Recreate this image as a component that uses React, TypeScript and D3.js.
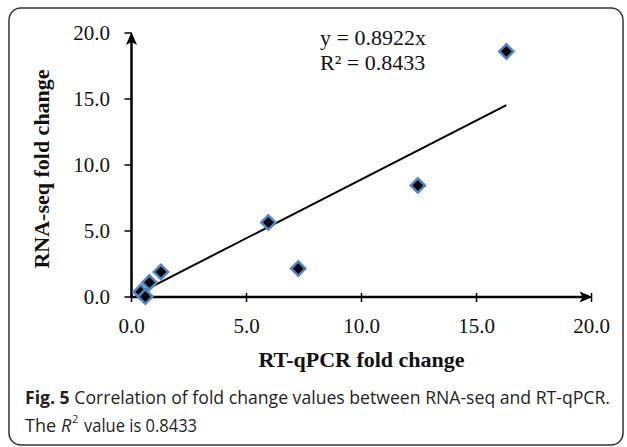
import React, { useRef, useEffect } from "react";
import * as d3 from "d3";

// RT-qPCR (x) vs RNA-seq (y) fold change
const qpcrFold = [0.4, 0.6, 0.78, 1.28, 5.95, 7.25, 12.45, 16.3];
const rnaseqFold = [0.38, 0.03, 1.1, 1.9, 5.65, 2.15, 8.45, 18.6];
const tickValues = [0, 5, 10, 15, 20];
const slope = 0.8922;
const eqLabel = "y = 0.8922x";
const r2Label = "R² = 0.8433";

const W = 627;
const H = 447;

const App = () => {
    const ref = useRef<SVGSVGElement>(null);

    useEffect(() => {
        const svg = d3.select(ref.current);
        svg.selectAll("*").remove();

        const serif = "'Liberation Serif', 'Times New Roman', serif";
        const sans = "'Open Sans', 'Noto Sans', sans-serif";

        // frame
        svg.append("rect")
            .attr("x", 9).attr("y", 8)
            .attr("width", 614).attr("height", 437)
            .attr("rx", 12)
            .attr("fill", "#fff")
            .attr("stroke", "#333")
            .attr("stroke-width", 1.5);

        const x = d3.scaleLinear().domain([0, 20]).range([131.5, 591.5]);
        const y = d3.scaleLinear().domain([0, 20]).range([297, 33]);

        const g = svg.append("g");

        // y axis
        g.append("line")
            .attr("x1", x(0)).attr("x2", x(0))
            .attr("y1", y(0) + 1).attr("y2", y(20) + 4)
            .attr("stroke", "#000").attr("stroke-width", 2.5);
        g.append("path")
            .attr("d", `M${x(0)},${y(20) - 1} L${x(0) - 5.5},${y(20) + 12} L${x(0)},${y(20) + 9} L${x(0) + 5.5},${y(20) + 12} Z`)
            .attr("fill", "#000");
        tickValues.forEach(t => {
            g.append("line")
                .attr("x1", x(0) - 7).attr("x2", x(0))
                .attr("y1", y(t)).attr("y2", y(t))
                .attr("stroke", "#000").attr("stroke-width", 1.5);
            g.append("text")
                .attr("x", 110).attr("y", y(t))
                .attr("dy", "0.35em")
                .attr("text-anchor", "end")
                .attr("font-family", serif)
                .attr("font-size", 21)
                .attr("fill", "#111")
                .text(t.toFixed(1));
        });

        // x axis
        g.append("line")
            .attr("x1", x(0) - 1).attr("x2", x(20) - 4)
            .attr("y1", y(0)).attr("y2", y(0))
            .attr("stroke", "#000").attr("stroke-width", 2.5);
        g.append("path")
            .attr("d", `M${x(20) + 1},${y(0)} L${x(20) - 12},${y(0) - 5.5} L${x(20) - 9},${y(0)} L${x(20) - 12},${y(0) + 5.5} Z`)
            .attr("fill", "#000");
        tickValues.forEach(t => {
            g.append("line")
                .attr("x1", x(t)).attr("x2", x(t))
                .attr("y1", y(0) - 4).attr("y2", y(0) + 5)
                .attr("stroke", "#000").attr("stroke-width", 1.5);
            g.append("text")
                .attr("x", x(t)).attr("y", 333)
                .attr("text-anchor", "middle")
                .attr("font-family", serif)
                .attr("font-size", 21)
                .attr("fill", "#111")
                .text(t.toFixed(1));
        });

        // axis titles
        g.append("text")
            .attr("x", (x(0) + x(20)) / 2).attr("y", 367)
            .attr("text-anchor", "middle")
            .attr("font-family", serif)
            .attr("font-weight", "bold")
            .attr("font-size", 22)
            .attr("fill", "#111")
            .text("RT-qPCR fold change");
        g.append("text")
            .attr("transform", `translate(49,169) rotate(-90)`)
            .attr("text-anchor", "middle")
            .attr("font-family", serif)
            .attr("font-weight", "bold")
            .attr("font-size", 22)
            .attr("fill", "#111")
            .text("RNA-seq fold change");

        // trend line
        const xMin = d3.min(qpcrFold)!;
        const xMax = d3.max(qpcrFold)!;
        g.append("line")
            .attr("x1", x(xMin)).attr("y1", y(slope * xMin))
            .attr("x2", x(xMax)).attr("y2", y(slope * xMax))
            .attr("stroke", "#000").attr("stroke-width", 2);

        // points
        const diamond = d3.symbol().type(d3.symbolDiamond2).size(130);
        qpcrFold.forEach((v, i) => {
            g.append("path")
                .attr("d", diamond()!)
                .attr("transform", `translate(${x(v)},${y(rnaseqFold[i])})`)
                .attr("fill", "#000")
                .attr("stroke", "#4f86c6")
                .attr("stroke-width", 2.5);
        });

        // equation
        g.append("text")
            .attr("x", 320).attr("y", 45)
            .attr("font-family", serif)
            .attr("font-size", 22)
            .attr("fill", "#111")
            .text(eqLabel);
        g.append("text")
            .attr("x", 320).attr("y", 70)
            .attr("font-family", serif)
            .attr("font-size", 22)
            .attr("fill", "#111")
            .text(r2Label);

        // caption
        const cap = g.append("text")
            .attr("x", 25).attr("y", 404)
            .attr("font-family", sans)
            .attr("font-size", 18)
            .attr("fill", "#231f20")
            .attr("textLength", 585)
            .attr("lengthAdjust", "spacingAndGlyphs");
        cap.append("tspan").attr("font-weight", "bold").text("Fig. 5");
        cap.append("tspan").text(" Correlation of fold change values between RNA-seq and RT-qPCR.");

        const capText = (tx: number, ty: number, s: string, size = 18, italic = false) =>
            g.append("text")
                .attr("x", tx).attr("y", ty)
                .attr("font-family", sans)
                .attr("font-size", size)
                .attr("font-style", italic ? "italic" : "normal")
                .attr("fill", "#231f20")
                .text(s);
        capText(25, 432, "The");
        capText(61, 432, "R", 18, true);
        capText(72, 423, "2", 11);
        capText(84, 432, "value is 0.8433")
            .attr("textLength", 113)
            .attr("lengthAdjust", "spacingAndGlyphs");
    }, []);

    return (
        <svg ref={ref} width={W} height={H}
            style={{ position: "absolute", left: 0, top: 0, background: "#fff" }} />
    );
};

export default App;
